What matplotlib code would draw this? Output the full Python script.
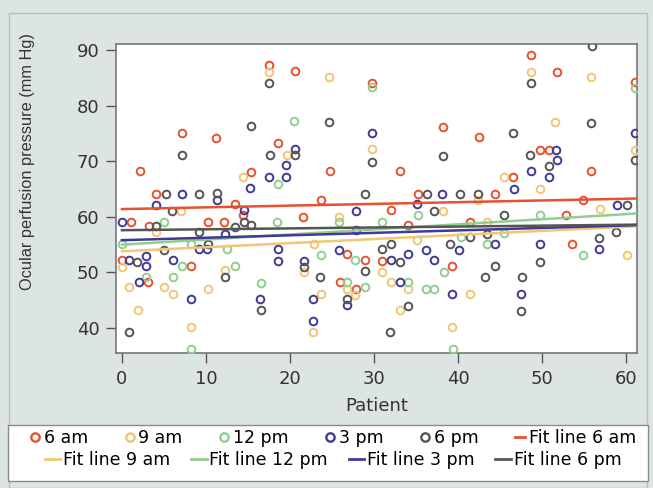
import matplotlib.pyplot as plt
from matplotlib.lines import Line2D
from matplotlib.patches import Rectangle

plt.rcParams['font.family'] = ['DejaVu Sans']

# Ocular perfusion pressure (mm Hg) per patient
am6_x = [7.1, 11.2, 2.1, 4.1, 13.4, 1.1, 3.2, 10.2, 12.2, 0.0, 8.2, 3.1, 14.4,
         17.5, 20.6, 29.8, 18.6, 15.4, 24.8, 23.7, 21.6, 26.8, 28.9, 25.9, 27.9,
         38.2, 42.5, 33.1, 35.2, 44.4, 32.0, 41.4, 34.1, 31.0, 39.3,
         48.7, 51.8, 61.1, 49.7, 50.8, 55.8, 46.6, 54.9, 52.9, 53.6]
am6_y = [75.1, 74.2, 68.2, 64.2, 62.3, 59.1, 58.3, 59.1, 59.1, 52.2, 51.2, 48.2, 60.3,
         87.3, 86.3, 84.1, 73.2, 68.1, 68.3, 63.1, 60.0, 53.3, 52.2, 48.2, 47.1,
         76.1, 74.3, 68.2, 64.2, 64.2, 61.3, 59.1, 58.5, 52.1, 51.2,
         89.1, 86.1, 84.3, 72.1, 72.1, 68.2, 67.2, 63.1, 60.3, 55.2]

am9_x = [14.4, 0.0, 12.3, 0.8, 5.0, 6.1, 10.2, 1.9, 8.2, 4.0, 7.0,
         17.5, 24.6, 19.6, 29.8, 25.8, 22.8, 21.7, 26.8, 27.7, 23.7, 22.7,
         42.4, 38.2, 43.4, 35.1, 31.0, 32.0, 34.1, 41.4, 33.1, 39.3,
         48.7, 55.8, 51.5, 61.1, 49.8, 56.9, 60.1, 45.5]
am9_y = [67.2, 50.9, 50.4, 47.4, 47.3, 46.2, 47.1, 43.2, 40.2, 57.3, 61.0,
         86.1, 85.1, 71.1, 72.3, 60.0, 55.1, 50.1, 47.1, 45.9, 46.2, 39.2,
         63.1, 61.1, 59.1, 55.9, 50.1, 48.2, 47.1, 46.2, 43.2, 40.2,
         86.1, 85.1, 77.1, 72.0, 65.1, 61.5, 53.1, 67.2]

pm12_x = [5.0, 0.0, 8.2, 12.5, 7.1, 13.5, 2.9, 6.1, 8.2,
          16.6, 20.5, 29.8, 18.6, 18.5, 25.8, 23.7, 27.7, 26.8, 28.9,
          35.2, 31.0, 40.4, 43.4, 38.3, 34.1, 36.2, 37.2, 39.4,
          61.1, 49.7, 54.9, 45.5]
pm12_y = [59.1, 55.2, 55.1, 54.3, 51.2, 51.2, 49.2, 49.1, 36.3,
          48.1, 77.3, 83.3, 65.9, 59.1, 59.1, 53.1, 52.2, 48.2, 47.3,
          60.3, 59.1, 56.3, 55.1, 50.1, 48.2, 47.1, 47.1, 36.2,
          83.1, 60.3, 53.1, 57.1]

pm3_x = [7.1, 11.3, 4.0, 14.5, 0.0, 12.3, 9.2, 10.1, 0.8, 2.9, 2.9, 6.1, 2.0, 8.2,
         29.8, 20.6, 19.5, 17.5, 19.5, 15.3, 27.9, 27.9, 18.6, 21.7, 25.8, 26.8,
         16.4, 22.7, 22.7, 18.6,
         38.1, 35.1, 34.1, 36.2, 40.1, 44.4, 32.0, 37.2, 33.1, 39.3,
         61.1, 51.7, 51.8, 48.7, 50.8, 46.7, 58.9, 56.8, 49.7, 47.5]
pm3_y = [64.2, 63.0, 62.1, 61.2, 59.1, 57.0, 54.2, 54.2, 52.2, 52.9, 51.2, 52.2, 48.2, 45.2,
         75.0, 72.3, 69.3, 67.2, 67.2, 65.2, 61.1, 57.6, 52.1, 52.1, 54.1, 44.1,
         45.2, 45.2, 41.3, 54.2,
         64.2, 62.3, 53.4, 54.1, 54.1, 55.1, 52.2, 52.2, 48.2, 46.2,
         75.1, 72.1, 70.2, 68.2, 67.2, 65.1, 62.1, 54.3, 55.2, 46.1]

pm6_x = [7.1, 5.2, 9.2, 11.3, 6.0, 4.0, 13.4, 14.5, 9.2, 5.0, 10.3, 1.8, 12.3, 0.8,
         17.5, 15.4, 24.6, 29.8, 17.6, 20.6, 28.9, 15.4, 21.7, 28.9, 23.6, 26.8, 16.6,
         38.2, 36.3, 40.2, 42.4, 37.2, 43.4, 41.4, 31.0, 32.0, 39.0, 33.1, 44.4, 43.2,
         34.1, 31.9,
         48.7, 55.8, 46.5, 61.1, 48.6, 50.8, 60.1, 45.5, 58.8, 56.8, 49.7, 47.6, 47.5, 56.0]
pm6_y = [71.1, 64.2, 64.2, 64.3, 61.1, 58.3, 58.2, 59.1, 57.3, 54.1, 55.2, 51.9, 49.1, 39.2,
         84.1, 76.3, 77.1, 69.9, 71.1, 71.1, 64.2, 58.5, 51.0, 50.3, 49.1, 45.2, 43.2,
         71.0, 64.2, 64.2, 64.2, 61.1, 57.0, 56.3, 54.3, 55.1, 55.1, 51.9, 51.2, 49.1,
         44.0, 39.2,
         84.1, 76.9, 75.0, 70.2, 71.1, 69.1, 62.2, 60.3, 57.3, 56.2, 51.9, 49.1, 43.1, 90.8]

# fitted line values at the first and last patient
fit_x = [0.0, 61.2]
fit_am6 = [61.4, 63.3]
fit_am9 = [53.8, 58.3]
fit_pm12 = [55.0, 60.6]
fit_pm3 = [55.8, 58.5]
fit_pm6 = [57.6, 58.6]

labels = ['6 am', '9 am', '12 pm', '3 pm', '6 pm']
colors = ['#e8502f', '#f3c574', '#8fce8f', '#3f3a98', '#555555']

fig = plt.figure(figsize=(6.53, 4.88), dpi=100)
fig.patch.set_facecolor('#dde5e4')
# outer frame of the graph region
fig.patches.append(Rectangle((9 / 653, 0.0), 638 / 653, 1 - 13 / 488, transform=fig.transFigure,
                             facecolor='none', edgecolor='#b7c0c0', lw=1))

ax = fig.add_axes([0.1777, 0.2766, 0.7978, 0.6332])
ax.set_facecolor('white')

series = [(am6_x, am6_y), (am9_x, am9_y), (pm12_x, pm12_y), (pm3_x, pm3_y), (pm6_x, pm6_y)]
for (xs, ys), c in zip(series, colors):
    ax.plot(xs, ys, 'o', mfc='none', mec=c, ms=5.5, mew=1.4, zorder=3)

fits = [fit_am6, fit_am9, fit_pm12, fit_pm3, fit_pm6]
for ys, c in zip(fits, colors):
    ax.plot(fit_x, ys, '-', color=c, lw=1.8, zorder=4)

ax.set_xlim(-0.7, 61.3)
ax.set_ylim(35.5, 91.1)
ax.set_xticks([0, 10, 20, 30, 40, 50, 60])
ax.set_yticks([40, 50, 60, 70, 80, 90])
ax.tick_params(labelsize=13, colors='#555555', length=7, width=1, pad=5)
for t in ax.get_xticklabels() + ax.get_yticklabels():
    t.set_color('#333333')
for s in ax.spines.values():
    s.set_color('#777777')
    s.set_linewidth(1.2)
ax.set_xlabel('Patient', fontsize=13, color='#333333', labelpad=7)
ax.set_ylabel('Ocular perfusion pressure (mm Hg)', fontsize=11.8, color='#333333',
              family='Liberation Sans')
ax.yaxis.set_label_coords(-0.155, 0.62)

# legend box
fig.patches.append(Rectangle((0.0123, 0.0143), 0.980, 0.1148, transform=fig.transFigure,
                             facecolor='white', edgecolor='#8a8a8a', lw=1))

row1 = [Line2D([], [], ls='none', marker='o', mfc='none', mec=c, ms=6, mew=1.7) for c in colors]
row1.append(Line2D([], [], color=colors[0], lw=2))
lab1 = labels + ['Fit line 6 am']
row2 = [Line2D([], [], color=c, lw=2) for c in colors[1:]]
lab2 = ['Fit line ' + l for l in labels[1:]]

fig.legend(row1, lab1, loc='center', bbox_to_anchor=(0.51, 0.103), ncol=6,
           frameon=False, fontsize=12.5, handlelength=0.6, handletextpad=0.2,
           columnspacing=2.1, borderaxespad=0)
fig.legend(row2, lab2, loc='center', bbox_to_anchor=(0.51, 0.058), ncol=4,
           frameon=False, fontsize=12.5, handlelength=0.9, handletextpad=0.15,
           columnspacing=1.2, borderaxespad=0)

fig.savefig('out.png', dpi=100, facecolor=fig.get_facecolor())
